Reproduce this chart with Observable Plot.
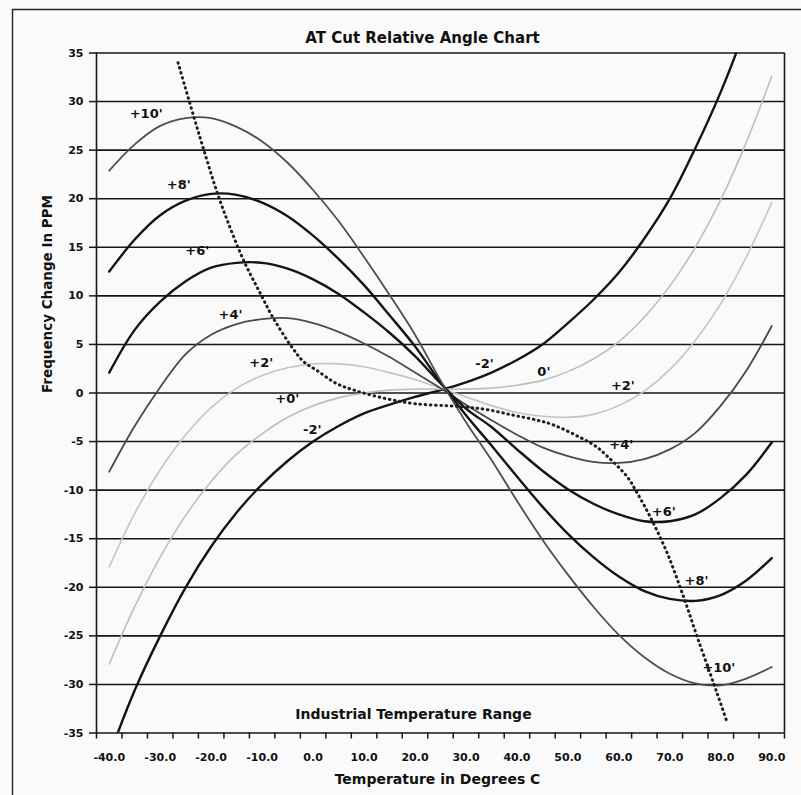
<!DOCTYPE html>
<html><head><meta charset="utf-8">
<script src="https://cdn.jsdelivr.net/npm/d3@7"></script>
<script src="https://cdn.jsdelivr.net/npm/@observablehq/plot@0.6"></script>
<style>
html,body{margin:0;padding:0;background:#fafafa;overflow:hidden;}
#chart{width:801px;height:795px;}
</style></head><body><div id="chart"></div>
<script>
// Temperature categories (°C)
const temps = [-40, -35, -30, -25, -20, -15, -10, -5, 0, 5, 10, 15, 20, 25, 30, 35, 40, 45, 50, 55, 60, 65, 70, 75, 80, 85, 90];

// Frequency change (ppm) per relative angle
const angleM2  = [-37.3, -30.6, -25.0, -20.0, -15.8, -12.3, -9.4, -7.0, -5.0, -3.4, -2.1, -1.2, -0.4, 0.3, 1.1, 2.1, 3.4, 5.0, 7.2, 9.6, 12.4, 15.9, 20.0, 25.2, 31.0, 37.8, 45.5];
const angle0   = [-27.9, -22.0, -16.9, -12.6, -9.1, -6.3, -4.2, -2.5, -1.3, -0.5, 0.0, 0.3, 0.4, 0.4, 0.4, 0.5, 0.8, 1.3, 2.2, 3.5, 5.3, 7.8, 11.0, 15.0, 19.9, 25.8, 32.6];
const angleP2  = [-17.9, -12.4, -7.9, -4.3, -1.5, 0.5, 1.8, 2.6, 3.0, 3.0, 2.7, 2.1, 1.4, 0.5, -0.4, -1.3, -2.0, -2.4, -2.5, -2.2, -1.3, 0.2, 2.4, 5.4, 9.2, 14.0, 19.6];
const angleP4  = [-8.1, -3.4, 0.6, 4.0, 6.0, 7.1, 7.6, 7.7, 7.2, 6.3, 5.1, 3.7, 2.1, 0.5, -1.2, -2.8, -4.3, -5.6, -6.5, -7.1, -7.2, -6.8, -5.8, -4.1, -1.3, 2.3, 6.9];
const angleP6  = [2.1, 6.5, 9.4, 11.5, 12.9, 13.4, 13.4, 12.8, 11.7, 10.2, 8.3, 6.2, 3.8, 1.0, -1.6, -3.5, -5.8, -8.0, -9.9, -11.4, -12.5, -13.2, -13.2, -12.5, -10.8, -8.4, -5.1];
const angleP8  = [12.5, 15.8, 18.3, 19.8, 20.5, 20.4, 19.6, 18.2, 16.2, 13.8, 11.1, 8.0, 4.8, 1.1, -2.3, -5.4, -8.6, -11.7, -14.5, -16.9, -18.9, -20.4, -21.2, -21.4, -20.8, -19.3, -17.0];
const angleP10 = [22.9, 25.6, 27.5, 28.3, 28.3, 27.4, 25.9, 23.7, 20.9, 17.7, 14.0, 10.1, 6.0, 1.3, -3.0, -6.9, -11.1, -15.1, -18.7, -22.0, -24.9, -27.2, -28.9, -29.9, -30.1, -29.4, -28.2];

// Dotted locus of turning points
const locusT = [-26.5, -23.5, -21.2, -18.8, -16.2, -13.5, -10.5, -7.8, -4.0, -1.8, 0.8, 4.5, 8.6, 14.5, 20.0, 28.9, 34.0, 39.4, 44.0, 47.2, 52.5, 55.5, 57.7, 61.6, 63.6, 66.2, 69.5, 72.7, 75.5, 78.6, 80.0, 81.3];
const locusV = [34.0, 28.6, 24.6, 20.6, 16.9, 13.5, 10.4, 7.7, 4.6, 3.2, 2.3, 1.0, 0.2, -0.6, -1.1, -1.4, -1.7, -2.3, -2.8, -3.3, -4.6, -5.5, -6.5, -8.6, -10.3, -12.8, -16.5, -21.0, -25.3, -29.9, -32.0, -34.0];

// Axis ticks
const xTickLabels = [-40, -30, -20, -10, 0, 10, 20, 30, 40, 50, 60, 70, 80, 90];
const xTickMarks = [-42.5, -37.5, -32.5, -27.5, -22.5, -17.5, -12.5, -7.5, -2.5, 2.5, 7.5, 12.5, 17.5, 22.5, 27.5, 32.5, 37.5, 42.5, 47.5, 52.5, 57.5, 62.5, 67.5, 72.5, 77.5, 82.5, 87.5, 92.5];
const yTicks = [-35, -30, -25, -20, -15, -10, -5, 0, 5, 10, 15, 20, 25, 30, 35];

// Curve annotations
const curveLabelText = ["+10'", "+8'", "+6'", "+4'", "+2'", "+0'", "-2'", "-2'", "0'", "+2'", "+4'", "+6'", "+8'", "+10'"];
const curveLabelT = [-32.75, -26.35, -22.74, -16.2, -10.18, -5.08, -0.17, 33.64, 45.28, 60.78, 60.48, 68.82, 75.24, 79.62];
const curveLabelV = [28.74, 21.46, 14.6, 8.08, 3.11, -0.6, -3.76, 3.0, 2.14, 0.77, -5.35, -12.27, -19.3, -28.29];

const series = [
  {name: "-2'",  values: angleM2,  stroke: "#141414", width: 2.4},
  {name: "0'",   values: angle0,   stroke: "#bebebe", width: 1.6},
  {name: "+2'",  values: angleP2,  stroke: "#c4c4c4", width: 1.6},
  {name: "+4'",  values: angleP4,  stroke: "#4a4a4a", width: 1.8},
  {name: "+6'",  values: angleP6,  stroke: "#141414", width: 2.4},
  {name: "+8'",  values: angleP8,  stroke: "#141414", width: 2.4},
  {name: "+10'", values: angleP10, stroke: "#4f4f4f", width: 1.8}
];

const locus = locusT.map((t, i) => ({T: t, v: locusV[i]}));
const labels = curveLabelText.map((s, i) => ({label: s, T: curveLabelT[i], v: curveLabelV[i]}));

const ink = "#161616";

const chart = Plot.plot({
  width: 801, height: 795,
  marginLeft: 96, marginRight: 17, marginTop: 52.5, marginBottom: 62.5,
  x: {domain: [-42.5, 92.5], label: null},
  y: {domain: [-35, 35], label: null},
  style: {background: "transparent", fontFamily: "'DejaVu Sans', sans-serif", color: "#111"},
  marks: [
    Plot.ruleY(yTicks, {stroke: ink, strokeWidth: 1.6}),
    Plot.ruleX([-42.5, 92.5], {stroke: ink, strokeWidth: 1.6}),
    ...series.map(s => Plot.line(temps.map((t, i) => ({T: t, v: s.values[i]})), {
      x: "T", y: "v", stroke: s.stroke, strokeWidth: s.width, curve: "catmull-rom", clip: true
    })),
    Plot.line(locus, {x: "T", y: "v", stroke: "#1e1e1e", strokeWidth: 3, strokeDasharray: "0.6,4.6", strokeLinecap: "round", curve: "catmull-rom", clip: true}),
    Plot.axisX(xTickMarks, {tickSize: 6, tickFormat: () => "", stroke: ink, strokeWidth: 1.5, label: null}),
    Plot.axisY(yTicks, {tickSize: 7, tickFormat: () => "", stroke: ink, strokeWidth: 1.5, label: null}),
    Plot.text(xTickLabels, {x: d => d, frameAnchor: "bottom", dy: 24.5, text: d => d.toFixed(1), fontSize: 11, fontWeight: "bold", lineAnchor: "middle"}),
    Plot.text(yTicks, {y: d => d, frameAnchor: "left", dx: -13, textAnchor: "end", text: d => String(d), fontSize: 11, fontWeight: "bold"}),
    Plot.text(labels, {x: "T", y: "v", text: "label", fontSize: 13, fontWeight: "bold"}),
    Plot.text(["AT Cut Relative Angle Chart"], {text: d => d, frameAnchor: "top", dx: -18, dy: -20.5, fontSize: 15, fontWeight: "bold"}),
    Plot.text(["Industrial Temperature Range"], {text: d => d, x: 19.7, y: -33.1, fontSize: 14, fontWeight: "bold"}),
    Plot.text(["Temperature in Degrees C"], {text: d => d, frameAnchor: "bottom", dx: -3, dy: 50.5, fontSize: 14, fontWeight: "bold"}),
    Plot.text(["Frequency Change In PPM"], {text: d => d, frameAnchor: "left", dx: -49.3, rotate: -90, fontSize: 13.5, fontWeight: "bold"})
  ]
});

d3.select(chart).append("path")
  .attr("d", "M12.5,800V9.5H805")
  .attr("fill", "none")
  .attr("stroke", "#222")
  .attr("stroke-width", 1.4);

document.getElementById("chart").append(chart);
</script>
</body></html>
